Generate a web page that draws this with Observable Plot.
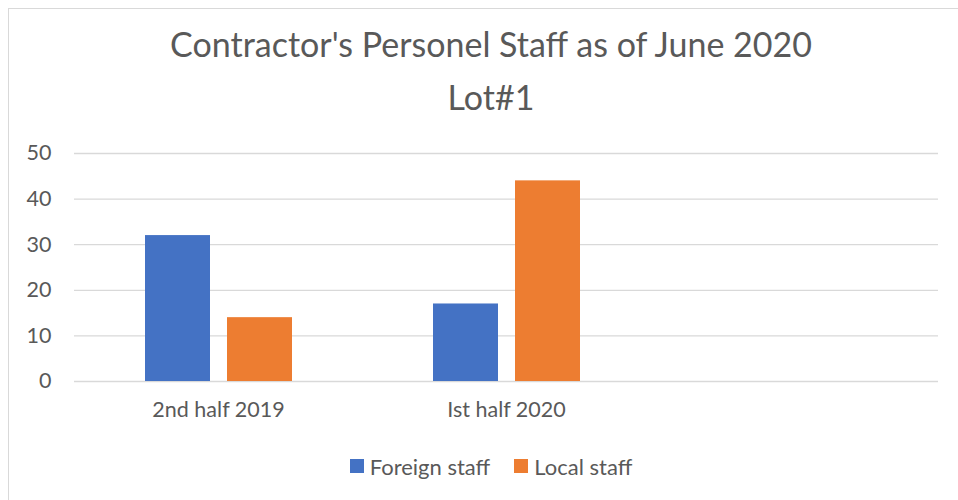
<!DOCTYPE html>
<html><head><meta charset="utf-8">
<script src="https://cdn.jsdelivr.net/npm/d3@7"></script>
<script src="https://cdn.jsdelivr.net/npm/@observablehq/plot@0.6"></script>
<style>
html,body{margin:0;padding:0;background:#fff;overflow:hidden;width:958px;height:500px;position:relative}
#frame{position:absolute;left:8px;top:8px;width:990px;height:520px;border-left:1px solid #d9d9d9;border-top:1px solid #d9d9d9;box-sizing:border-box}
#title{position:absolute;left:8px;width:966px;top:17px;text-align:center;font-family:Lato,sans-serif;font-size:34px;line-height:53px;color:#595959}
#chart{position:absolute;left:0;top:130px}
#legend{position:absolute;left:8px;width:966px;top:452px;height:28px;display:flex;justify-content:center;align-items:center;font-family:Lato,sans-serif;font-size:22px;color:#595959}
.item{display:flex;align-items:center;margin:0 12px}
.sw{width:14px;height:14px;margin-right:6px}
</style>
</head><body>
<div id="frame"></div>
<div id="title">Contractor's Personel Staff as of June 2020<br>Lot#1</div>
<div id="chart"></div>
<div id="legend"></div>
<script>
const categories = ["2nd half 2019", "Ist half 2020", ""];
const series = ["Foreign staff", "Local staff"];
const foreignStaff = [32, 17, null];
const localStaff = [14, 44, null];
const yTicks = [0, 10, 20, 30, 40, 50];
const colors = ["#4472C4", "#ED7D31"];

const rows = categories.flatMap((c, i) => [
  {category: c, series: series[0], value: foreignStaff[i]},
  {category: c, series: series[1], value: localStaff[i]}
]);

const chart = Plot.plot({
  width: 958, height: 300,
  marginLeft: 73, marginRight: 19, marginTop: 23, marginBottom: 49,
  style: {fontFamily: "Lato, sans-serif", fontSize: "21.5px", color: "#595959", background: "transparent"},
  fx: {domain: categories, padding: 0, axis: "bottom", label: null, tickSize: 0, tickPadding: 20},
  x: {domain: series, paddingInner: 0.209, paddingOuter: 0.85, axis: null},
  y: {domain: [0, 50], ticks: yTicks, label: null, tickSize: 0, tickPadding: 23},
  color: {domain: series, range: colors},
  marks: [
    Plot.ruleY(yTicks, {stroke: "#d9d9d9", strokeWidth: 1.3}),
    Plot.barY(rows, {fx: "category", x: "series", y: "value", fill: "series"})
  ]
});
document.getElementById("chart").appendChild(chart);

const legend = document.getElementById("legend");
series.forEach((s, i) => {
  const it = document.createElement("div");
  it.className = "item";
  it.innerHTML = `<div class="sw" style="background:${colors[i]}"></div><span>${s}</span>`;
  legend.appendChild(it);
});
</script>
</body></html>
